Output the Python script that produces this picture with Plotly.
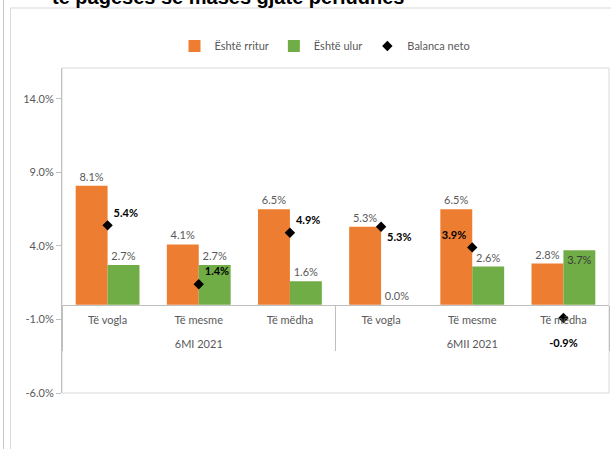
import plotly.graph_objects as go

# Data (percent)
periods = ["6MI 2021", "6MI 2021", "6MI 2021", "6MII 2021", "6MII 2021", "6MII 2021"]
sizes = ["Të vogla", "Të mesme", "Të mëdha", "Të vogla", "Të mesme", "Të mëdha"]
increased = [8.1, 4.1, 6.5, 5.3, 6.5, 2.8]
decreased = [2.7, 2.7, 1.6, 0.0, 2.6, 3.7]
net_balance = [5.4, 1.4, 4.9, 5.3, 3.9, -0.9]
y_ticks = [-6, -1, 4, 9, 14]

ORANGE = "#ED7D31"
GREEN = "#70AD47"
GRAY_TXT = "#595959"
FONT = "Lato, Liberation Sans, Arial, sans-serif"

# group labels sit one line lower than the size labels
x_cat = [["<br>" + p for p in periods], sizes]

fig = go.Figure()

fig.add_trace(go.Bar(
    name="Është rritur", x=x_cat, y=increased,
    marker=dict(color=ORANGE, line=dict(width=0)),
    text=[f"{v:.1f}%" for v in increased], textposition="outside",
    textfont=dict(family=FONT, size=11, color=GRAY_TXT),
    cliponaxis=False,
))

fig.add_trace(go.Bar(
    name="Është ulur", x=x_cat, y=decreased,
    marker=dict(color=GREEN, line=dict(width=0)),
    text=[f"{v:.1f}%" for v in decreased],
    textposition=["outside"] * 5 + ["inside"],
    insidetextanchor="end",
    textfont=dict(family=FONT, size=11, color=GRAY_TXT),
    insidetextfont=dict(family=FONT, size=11, color="#3a3a3a"),
    cliponaxis=False,
))

net_text = [f"{v:.1f}%" for v in net_balance]
net_text[-1] = "<br>" + net_text[-1]
fig.add_trace(go.Scatter(
    name="Balanca neto", x=x_cat, y=net_balance,
    mode="markers+text",
    marker=dict(symbol="diamond", size=8, color="black"),
    text=net_text,
    textposition=["top right", "top right", "top right", "bottom right", "top left", "bottom center"],
    textfont=dict(family=FONT, size=11, color="black", weight="bold"),
    cliponaxis=False,
))

L, R, T, B = 62, 2, 68, 56
W, H = 611, 449
pw, ph = W - L - R, H - T - B
ymin, ymax = -6, 16.1


def px_x(x):
    return (x - L) / pw


def px_y(y):
    return (H - B - y) / ph


fig.update_layout(
    width=W, height=H,
    margin=dict(l=L, r=R, t=T, b=B),
    paper_bgcolor="white", plot_bgcolor="white",
    barmode="group", bargap=0.3, bargroupgap=0,
    uniformtext=dict(minsize=10, mode="show"),
    font=dict(family=FONT, size=11, color=GRAY_TXT),
    showlegend=True,
    legend=dict(
        orientation="h", xref="container", yref="container",
        x=325 / W, xanchor="center", y=1 - 46 / H, yanchor="middle",
        font=dict(family=FONT, size=11, color=GRAY_TXT),
        itemwidth=30, traceorder="normal",
    ),
    xaxis=dict(
        type="multicategory", anchor="free",
        position=(0 - ymin) / (ymax - ymin),
        showline=True, linecolor="#bfbfbf", linewidth=1,
        ticks="", showgrid=False, zeroline=False,
        ticklabelstandoff=5,
        showdividers=True, dividercolor="#bfbfbf", dividerwidth=1,
        tickfont=dict(family=FONT, size=11, color=GRAY_TXT),
    ),
    yaxis=dict(
        range=[ymin, ymax], tickvals=y_ticks,
        ticktext=[f"{v:.1f}%" for v in y_ticks],
        showgrid=False, zeroline=False,
        showline=True, linecolor="#bfbfbf", linewidth=1,
        ticks="outside", ticklen=5, tickcolor="#bfbfbf",
        tickfont=dict(family=FONT, size=11, color=GRAY_TXT),
    ),
)

# plot-area frame and outer chart borders
border = dict(color="#d9d9d9", width=1)
fig.add_shape(type="rect", xref="paper", yref="paper", x0=0, y0=0, x1=1, y1=1,
              line=border, layer="below")
fig.add_shape(type="line", xref="paper", yref="paper",
              x0=px_x(10.5), x1=px_x(10.5), y0=px_y(8), y1=px_y(449), line=border)
fig.add_shape(type="line", xref="paper", yref="paper",
              x0=px_x(10.5), x1=px_x(611), y0=px_y(8), y1=px_y(8), line=border)
fig.add_shape(type="line", xref="paper", yref="paper",
              x0=px_x(3.5), x1=px_x(3.5), y0=px_y(0), y1=px_y(449),
              line=dict(color="#c8c8c8", width=1))

# title line running off the top edge
fig.add_annotation(
    text="<b>të pagesës së masës gjatë periudhës</b>",
    xref="paper", yref="paper", x=px_x(50), y=px_y(10),
    xanchor="left", yanchor="bottom", showarrow=False,
    font=dict(family="Liberation Sans, Arial, sans-serif", size=20, color="black"),
)

fig.write_html("out.html")
